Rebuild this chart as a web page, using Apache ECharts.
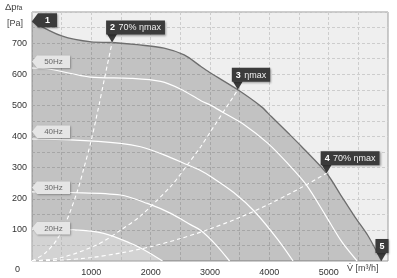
<!DOCTYPE html>
<html><head><meta charset="utf-8">
<script src="https://cdn.jsdelivr.net/npm/echarts@6/dist/echarts.min.js"></script>
<style>html,body{margin:0;padding:0;background:#fff}#c{width:397px;height:278px}</style>
</head><body><div id="c"></div>
<script>
// ---- data ----
const xTicks = [1000, 2000, 3000, 4000, 5000];
const yTicks = [100, 200, 300, 400, 500, 600, 700];
const maxCurve = [[0,770],[500,723],[1000,704],[1350,702],[1774,695],[2226,684],[2565,662],[2847,625],[3017,603],[3469,550],[3864,496],[4034,464],[4317,411],[4542,368],[4966,282],[5220,207],[5441,142],[5673,78],[5890,0]];
const hz50 = [[0,620],[305,616],[983,591],[1661,587],[2169,577],[2508,552],[2847,515],[3017,500],[3215,478],[3582,437],[3977,378],[4317,312],[4627,244],[4937,150],[5220,62],[5480,0]];
const hz40 = [[0,392],[644,389],[1492,378],[1830,367],[2226,341],[2622,309],[2847,290],[3017,271],[3400,220],[3751,159],[4147,68],[4400,0]];
const hz30 = [[0,222],[644,220],[1492,212],[1944,185],[2339,153],[2678,116],[2847,98],[3100,52],[3330,0]];
const hz20 = [[0,102],[700,100],[1209,89],[1661,57],[1944,30],[2200,0]];
const sys2 = [[0,0],[220,25],[418,68],[588,132],[757,220],[870,295],[1000,389],[1124,496],[1220,585],[1350,702]];
const sys3 = [[0,0],[500,11],[1096,52],[1500,100],[1830,145],[2339,240],[2622,310],[2847,368],[3017,418],[3469,550]];
const sys4 = [[0,0],[500,3],[1000,11],[1500,26],[2000,46],[2500,72],[3000,103],[3500,140],[4000,183],[4500,232],[4966,282]];
const markerX = [0, 1350, 3469, 4966, 5890];
const markerY = [770, 702, 550, 282, 0];
const markerNum = ['1', '2', '3', '4', '5'];
const markerText = ['', '70% ηmax', 'ηmax', '70% ηmax', ''];
const speedNames = ['50Hz', '40Hz', '30Hz', '20Hz'];
const speedTipY = [641, 416, 236, 106];

// ---- chart ----
const FONT = 'Liberation Sans';
const chart = echarts.init(document.getElementById('c'), null, {renderer: 'canvas'});
const dashedGrid = {show: true, lineStyle: {color: '#cdcdcd', type: [3, 2], width: 1}};
function curve(data, opts) {
  return Object.assign({type: 'line', data: data, symbol: 'none', smooth: 0.3, silent: true,
    lineStyle: {color: '#ffffff', width: 1.2}}, opts || {});
}
const rich = {
  b: {fill: '#ffffff', fontWeight: 'bold', fontSize: 9, fontFamily: FONT},
  n: {fill: '#f0f0f0', fontSize: 9, fontFamily: FONT}
};
const option = {
  animation: false,
  backgroundColor: '#ffffff',
  grid: {left: 32, right: 9, top: 12, bottom: 17, show: true, backgroundColor: '#efefef', borderColor: '#9a9a9a', borderWidth: 1},
  xAxis: {type: 'value', min: 0, max: 6000, interval: 500,
    axisLine: {show: false}, axisTick: {show: false}, splitLine: dashedGrid,
    axisLabel: {color: '#333', fontSize: 9, fontFamily: FONT, margin: 7,
      formatter: v => xTicks.includes(v) ? String(v) : ''}},
  yAxis: {type: 'value', min: 0, max: 800, interval: 50,
    axisLine: {show: false}, axisTick: {show: false}, splitLine: dashedGrid,
    axisLabel: {color: '#333', fontSize: 9, fontFamily: FONT, margin: 5,
      formatter: v => yTicks.includes(v) ? String(v) : ''}},
  graphic: [
    {type: 'text', left: 5, top: 2, style: {text: '{a|Δp}{s|fa}', rich: {a: {fontSize: 9.5, fill: '#444', fontFamily: FONT}, s: {fontSize: 7, fill: '#444', fontFamily: FONT, padding: [3, 0, 0, 0]}}}},
    {type: 'text', left: 7, top: 19, style: {text: '[Pa]', fontSize: 9, fill: '#444', fontFamily: FONT}},
    {type: 'text', left: 15, top: 265, style: {text: '0', fontSize: 9, fill: '#333', fontFamily: FONT}},
    {type: 'text', left: 347, top: 264, style: {text: 'V\u0307 [m³/h]', fontSize: 9, fill: '#444', fontFamily: FONT}}
  ],
  series: [
    curve(maxCurve, {lineStyle: {color: '#6e6e6e', width: 1.3}, areaStyle: {color: 'rgba(0,0,0,0.19)', opacity: 1, origin: 'start'}}),
    curve(hz20, {areaStyle: {color: 'rgba(255,255,255,0.28)', opacity: 1, origin: 'start'}}),
    curve(hz30), curve(hz40), curve(hz50),
    curve(sys2, {lineStyle: {color: '#ffffff', width: 1.1, type: [4, 3]}}),
    curve(sys3, {lineStyle: {color: '#ffffff', width: 1.1, type: [4, 3]}}),
    curve(sys4, {lineStyle: {color: '#ffffff', width: 1.1, type: [4, 3]}}),
    {
      type: 'custom', clip: false, silent: true, z: 10,
      data: speedTipY.map(y => [0, y]),
      renderItem: function (params, api) {
        const i = params.dataIndex;
        const p = api.coord([api.value(0), api.value(1)]);
        const x = p[0], y = p[1];
        return {type: 'group', children: [
          {type: 'polygon', shape: {points: [[x, y], [x + 5, y - 6], [x + 38, y - 6], [x + 38, y + 6.5], [x + 5, y + 6.5]]},
            style: {fill: '#e5e5e5', shadowBlur: 2, shadowColor: 'rgba(0,0,0,0.3)', shadowOffsetX: 1, shadowOffsetY: 1}},
          {type: 'text', style: {text: speedNames[i], x: x + 21.5, y: y + 0.5, align: 'center', verticalAlign: 'middle', fontSize: 8, fontFamily: FONT, fill: '#666'}}
        ]};
      }
    },
    {
      type: 'custom', clip: false, silent: true, z: 11,
      data: markerX.map((x, i) => [x, markerY[i]]),
      renderItem: function (params, api) {
        const i = params.dataIndex;
        const p = api.coord([api.value(0), api.value(1)]);
        const x = p[0], y = p[1];
        const txt = markerText[i] ? '{b|' + markerNum[i] + '} {n|' + markerText[i] + '}' : '{b|' + markerNum[i] + '}';
        if (i === 0) {
          return {type: 'group', children: [
            {type: 'polygon', shape: {points: [[x, y], [x + 6, y - 8], [x + 25, y - 8], [x + 25, y + 6], [x + 6, y + 6]]},
              style: {fill: '#3b3b3b', shadowBlur: 2, shadowColor: 'rgba(0,0,0,0.35)', shadowOffsetX: 1, shadowOffsetY: 1}},
            {type: 'text', style: {text: txt, rich: rich, x: x + 15.5, y: y - 1, align: 'center', verticalAlign: 'middle'}}
          ]};
        }
        return {type: 'group', children: [
          {type: 'polygon', shape: {points: [[x - 5, y - 8.5], [x + 5, y - 8.5], [x, y]]},
            style: {fill: '#3b3b3b'}},
          {type: 'text', style: {text: txt, rich: rich, x: x - 6, y: y - 8, align: 'left', verticalAlign: 'bottom',
            backgroundColor: '#3b3b3b', padding: [2, 4, 1, 4], lineHeight: 11,
            shadowBlur: 2, shadowColor: 'rgba(0,0,0,0.35)', shadowOffsetX: 1, shadowOffsetY: 1}}
        ]};
      }
    }
  ]
};
chart.setOption(option);
</script></body></html>
